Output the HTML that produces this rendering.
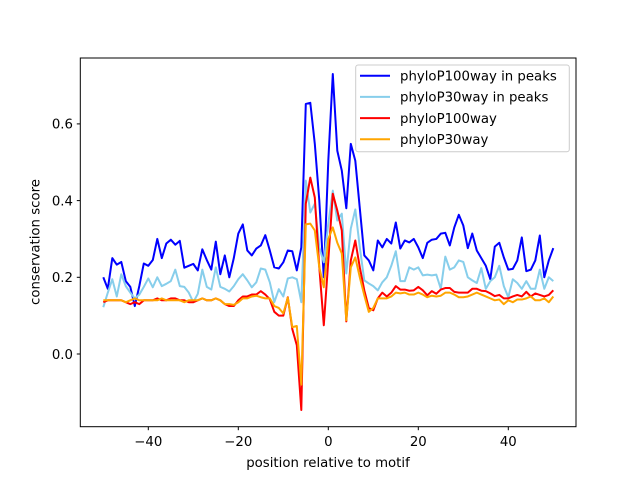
<!DOCTYPE html>
<html><head><meta charset="utf-8"><style>
html,body{margin:0;padding:0;background:#fff;}
svg{display:block;font-family:"DejaVu Sans","Liberation Sans",sans-serif;}
</style></head><body>
<svg id="chart" width="640" height="480" viewBox="0 0 640 480">
<rect x="0" y="0" width="640" height="480" fill="#fff"/>
<g id="series"></g>
<rect x="80.3" y="58" width="495.7" height="368.7" fill="none" stroke="#000" stroke-width="1"/>
<g id="xticks"></g>
<g id="yticks"></g>
<text x="328" y="467" font-size="13.3" text-anchor="middle">position relative to motif</text>
<text x="0" y="0" font-size="13.3" text-anchor="middle" transform="translate(39.5,242) rotate(-90)">conservation score</text>
<g id="legend">
<rect x="355.7" y="65" width="213.6" height="86.7" rx="2.5" fill="#fff" fill-opacity="0.8" stroke="#ccc" stroke-width="1"/>
</g>
</svg>
<script>
const positions = [];
for (let p = -50; p <= 50; p++) positions.push(p);
const seriesNames = ["phyloP100way in peaks","phyloP30way in peaks","phyloP100way","phyloP30way"];
const p100Peaks = [.20,.17,.25,.233,.24,.19,.175,.125,.177,.236,
.23,.245,.30,.25,.288,.298,.285,.295,.225,.23,
.235,.218,.273,.245,.22,.293,.208,.257,.20,.25,
.314,.338,.27,.257,.275,.283,.31,.27,.226,.223,
.239,.27,.268,.218,.278,.652,.655,.548,.40,.20,
.504,.73,.53,.478,.38,.548,.504,.38,.257,.244,
.218,.296,.278,.30,.288,.343,.275,.296,.291,.30,
.278,.25,.29,.298,.30,.314,.316,.283,.33,.363,
.335,.276,.314,.27,.25,.23,.195,.28,.29,.252,
.22,.222,.244,.304,.216,.22,.244,.309,.20,.244,.276];
const p30Peaks = [.122,.16,.195,.15,.208,.177,.16,.145,.155,.175,
.197,.174,.20,.177,.183,.19,.22,.177,.175,.16,
.135,.157,.22,.175,.168,.226,.175,.17,.163,.177,
.195,.208,.192,.174,.187,.223,.22,.187,.135,.169,
.15,.197,.20,.195,.135,.452,.369,.392,.278,.239,
.34,.426,.348,.366,.21,.327,.377,.278,.192,.184,
.177,.166,.187,.20,.23,.268,.19,.19,.226,.22,
.226,.205,.207,.205,.207,.17,.254,.22,.226,.244,
.24,.20,.192,.185,.224,.17,.19,.20,.23,.177,
.148,.195,.185,.17,.19,.17,.17,.22,.17,.20,.19];
const p100All = [.135,.14,.14,.14,.14,.135,.13,.135,.13,.14,
.14,.14,.145,.14,.14,.145,.145,.14,.14,.135,
.135,.14,.145,.14,.14,.145,.14,.13,.125,.125,
.14,.15,.15,.155,.155,.164,.155,.143,.11,.10,
.10,.148,.065,.023,-.146,.392,.46,.408,.226,.075,
.244,.418,.374,.322,.085,.244,.296,.226,.166,.12,
.114,.145,.16,.15,.16,.177,.168,.168,.165,.166,
.175,.166,.153,.164,.157,.168,.172,.172,.162,.16,
.16,.16,.17,.17,.165,.164,.158,.151,.154,.145,
.145,.15,.154,.15,.162,.15,.158,.154,.15,.154,.166];
const p30All = [.14,.14,.14,.14,.14,.135,.14,.145,.14,.14,
.14,.14,.14,.145,.14,.14,.14,.14,.135,.14,
.14,.14,.145,.14,.14,.145,.14,.13,.13,.128,
.135,.145,.145,.15,.152,.148,.145,.145,.125,.12,
.106,.147,.07,.073,-.08,.338,.34,.322,.226,.174,
.30,.33,.29,.262,.088,.226,.252,.20,.153,.11,
.12,.145,.145,.145,.15,.16,.158,.16,.155,.155,
.16,.155,.148,.152,.15,.152,.16,.16,.155,.148,
.148,.15,.155,.16,.155,.15,.145,.14,.142,.13,
.14,.135,.142,.142,.145,.15,.14,.14,.145,.135,.15];
const xTicks = [-40,-20,0,20,40];
const yTicks = [0.0,0.2,0.4,0.6];
const yTickLabels = ["0.0","0.2","0.4","0.6"];

const NS = "http://www.w3.org/2000/svg";
function xs(v){ return 328.3 + 4.5 * v; }
function ys(v){ return 354 - 383.5 * v; }
const colors = ["#0000ff","#87ceeb","#ff0000","#ffa500"];
const allSeries = [p100Peaks, p30Peaks, p100All, p30All];
const seriesKeys = ["line-phylop100way-peaks","line-phylop30way-peaks","line-phylop100way","line-phylop30way"];
const sg = document.getElementById("series");
allSeries.forEach((vals, i) => {
  const pts = vals.map((v, j) => xs(positions[j]).toFixed(2) + "," + ys(v).toFixed(2)).join(" ");
  const pl = document.createElementNS(NS, "polyline");
  pl.setAttribute("points", pts);
  pl.setAttribute("fill", "none");
  pl.setAttribute("stroke", colors[i]);
  pl.setAttribute("stroke-width", "2");
  pl.setAttribute("stroke-linejoin", "round");
  
  
  sg.appendChild(pl);
});
const xg = document.getElementById("xticks");
xTicks.forEach(t => {
  const ln = document.createElementNS(NS, "line");
  ln.setAttribute("x1", xs(t)); ln.setAttribute("x2", xs(t));
  ln.setAttribute("y1", 426.7); ln.setAttribute("y2", 430.2);
  ln.setAttribute("stroke", "#000");
  
  
  xg.appendChild(ln);
  const tx = document.createElementNS(NS, "text");
  tx.setAttribute("x", xs(t)); tx.setAttribute("y", 446);
  tx.setAttribute("font-size", "13.3"); tx.setAttribute("text-anchor", "middle");
  tx.textContent = t < 0 ? "\u2212" + Math.abs(t) : String(t);
  
  
  xg.appendChild(tx);
});
const yg = document.getElementById("yticks");
yTicks.forEach((t, i) => {
  const ln = document.createElementNS(NS, "line");
  ln.setAttribute("x1", 76.8); ln.setAttribute("x2", 80.3);
  ln.setAttribute("y1", ys(t)); ln.setAttribute("y2", ys(t));
  ln.setAttribute("stroke", "#000");
  
  
  yg.appendChild(ln);
  const tx = document.createElementNS(NS, "text");
  tx.setAttribute("x", 73); tx.setAttribute("y", ys(t) + 4.8);
  tx.setAttribute("font-size", "13.3"); tx.setAttribute("text-anchor", "end");
  tx.textContent = yTickLabels[i];
  
  
  yg.appendChild(tx);
});
const lg = document.getElementById("legend");
seriesNames.forEach((n, i) => {
  const y = 75.7 + i * 21.2;
  const ln = document.createElementNS(NS, "line");
  ln.setAttribute("x1", 360); ln.setAttribute("x2", 390);
  ln.setAttribute("y1", y); ln.setAttribute("y2", y);
  ln.setAttribute("stroke", colors[i]); ln.setAttribute("stroke-width", "2");
  
  
  lg.appendChild(ln);
  const tx = document.createElementNS(NS, "text");
  tx.setAttribute("x", 400); tx.setAttribute("y", y + 4.8);
  tx.setAttribute("font-size", "13.3");
  tx.textContent = n;
  
  
  lg.appendChild(tx);
});
</script>
</body></html>
